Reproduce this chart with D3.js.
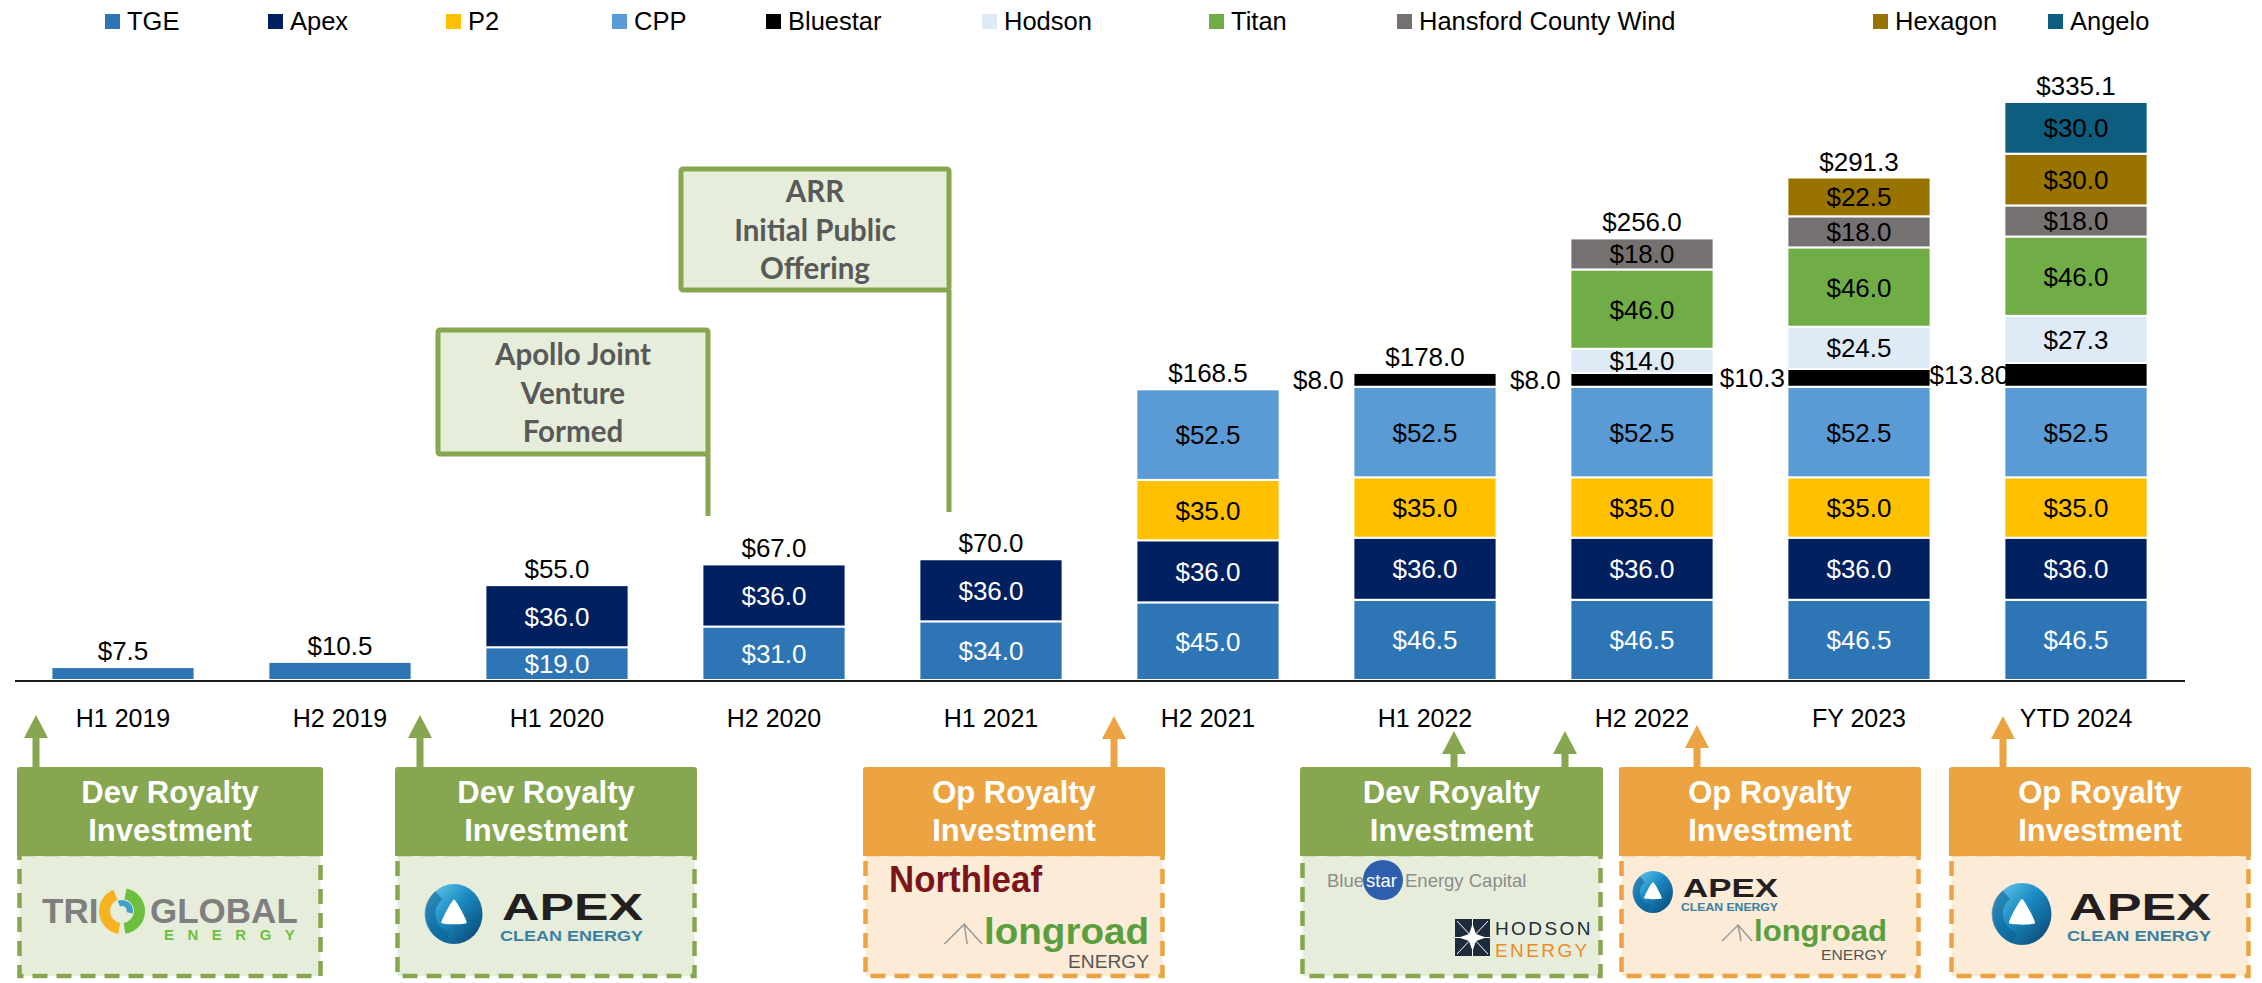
<!DOCTYPE html>
<html>
<head>
<meta charset="utf-8">
<script src="https://cdn.jsdelivr.net/npm/d3@7"></script>
<style>
  body { margin: 0; background: #fff; }
  svg { display: block; font-family: "Liberation Sans", Arial, sans-serif; }
</style>
</head>
<body>
<div id="chart"></div>
<script>
// Data
const periods = ["H1 2019", "H2 2019", "H1 2020", "H2 2020", "H1 2021", "H2 2021", "H1 2022", "H2 2022", "FY 2023", "YTD 2024"];
const seriesNames = ["TGE", "Apex", "P2", "CPP", "Bluestar", "Hodson", "Titan", "Hansford County Wind", "Hexagon", "Angelo"];
const tge      = [7.5, 10.5, 19, 31, 34, 45, 46.5, 46.5, 46.5, 46.5];
const apex     = [0, 0, 36, 36, 36, 36, 36, 36, 36, 36];
const p2       = [0, 0, 0, 0, 0, 35, 35, 35, 35, 35];
const cpp      = [0, 0, 0, 0, 0, 52.5, 52.5, 52.5, 52.5, 52.5];
const bluestar = [0, 0, 0, 0, 0, 0, 8, 8, 10.3, 13.8];
const hodson   = [0, 0, 0, 0, 0, 0, 0, 14, 24.5, 27.3];
const titan    = [0, 0, 0, 0, 0, 0, 0, 46, 46, 46];
const hansford = [0, 0, 0, 0, 0, 0, 0, 18, 18, 18];
const hexagon  = [0, 0, 0, 0, 0, 0, 0, 0, 22.5, 30];
const angelo   = [0, 0, 0, 0, 0, 0, 0, 0, 0, 30];
const bluestarLabels = ["", "", "", "", "", "", "$8.0", "$8.0", "$10.3", "$13.80"];

const seriesValues = [tge, apex, p2, cpp, bluestar, hodson, titan, hansford, hexagon, angelo];
const colors = ["#2e75b6", "#002060", "#ffc000", "#5b9bd5", "#000000", "#deebf7", "#70ad47", "#767171", "#997300", "#0d5e7e"];
const whiteText = ["TGE", "Apex"];

// legend layout (x of each swatch)
const legendX = [105, 268, 446, 612, 766, 982, 1209, 1397, 1873, 2048];

const width = 2262, height = 983;
const svg = d3.select("#chart").append("svg")
    .attr("width", width)
    .attr("height", height);

const defs = svg.append("defs");
const grad = defs.append("linearGradient").attr("id", "apexGrad")
    .attr("x1", 0).attr("y1", 0).attr("x2", 1).attr("y2", 1);
grad.append("stop").attr("offset", "0%").attr("stop-color", "#6fd0f0");
grad.append("stop").attr("offset", "45%").attr("stop-color", "#1b8cc4");
grad.append("stop").attr("offset", "100%").attr("stop-color", "#083f6b");

const rows = periods.map((p, i) => {
    const r = { period: p };
    seriesNames.forEach((s, j) => r[s] = seriesValues[j][i]);
    return r;
});

const x = d3.scaleBand()
    .domain(periods)
    .range([14.5, 2184.5])
    .paddingInner(0.34)
    .paddingOuter(0.17);

const y = d3.scaleLinear()
    .domain([0, 340])
    .range([680, 93.5]);

const color = d3.scaleOrdinal().domain(seriesNames).range(colors);

const layers = d3.stack().keys(seriesNames)(rows);

// Bars
const layerG = svg.append("g").selectAll("g")
    .data(layers)
    .enter().append("g")
    .attr("fill", d => color(d.key));

layerG.selectAll("rect")
    .data(d => d.filter(s => s[1] - s[0] > 0).map(s => ({ key: d.key, s })))
    .enter().append("rect")
    .attr("x", d => x(d.s.data.period))
    .attr("y", d => y(d.s[1]))
    .attr("width", x.bandwidth())
    .attr("height", d => y(d.s[0]) - y(d.s[1]))
    .attr("stroke", "#fff")
    .attr("stroke-width", 2);

// Segment labels
layerG.selectAll("text")
    .data(d => d.filter(s => s[1] - s[0] >= 12 && d.key !== "Bluestar").map(s => ({ key: d.key, s })))
    .enter().append("text")
    .attr("x", d => x(d.s.data.period) + x.bandwidth() / 2)
    .attr("y", d => (y(d.s[0]) + y(d.s[1])) / 2 + 9.5)
    .attr("text-anchor", "middle")
    .attr("font-size", 26)
    .attr("fill", d => whiteText.includes(d.key) ? "#fff" : "#000")
    .text(d => "$" + d3.format(".1f")(d.s[1] - d.s[0]));

// Bluestar labels sit to the left of the bar
const blueLayer = layers.find(l => l.key === "Bluestar");
svg.append("g").selectAll("text")
    .data(blueLayer.filter((s, i) => bluestarLabels[i] !== ""))
    .enter().append("text")
    .attr("x", d => x(d.data.period) - 35)
    .attr("y", d => (y(d[0]) + y(d[1])) / 2 + 9.5)
    .attr("text-anchor", "middle")
    .attr("font-size", 26)
    .text(d => bluestarLabels[periods.indexOf(d.data.period)]);

// Totals
svg.append("g").selectAll("text")
    .data(rows)
    .enter().append("text")
    .attr("x", d => x(d.period) + x.bandwidth() / 2)
    .attr("y", d => y(d3.sum(seriesNames, s => d[s])) - 7)
    .attr("text-anchor", "middle")
    .attr("font-size", 26)
    .text(d => d3.format("$.1f")(d3.sum(seriesNames, s => d[s])));

// X axis
const xAxis = svg.append("g")
    .attr("transform", "translate(0,680.5)")
    .call(d3.axisBottom(x).tickSize(0).tickSizeOuter(0).tickPadding(29));
xAxis.select(".domain").attr("stroke", "#1a1a1a").attr("stroke-width", 2);
xAxis.selectAll("text")
    .attr("font-size", 25)
    .attr("font-family", "Liberation Sans, Arial, sans-serif")
    .attr("fill", "#000");

// Legend
const legend = svg.append("g").selectAll("g")
    .data(seriesNames)
    .enter().append("g")
    .attr("transform", (d, i) => `translate(${legendX[i]},0)`);
legend.append("rect")
    .attr("y", 14).attr("width", 15).attr("height", 15)
    .attr("fill", d => color(d));
legend.append("text")
    .attr("x", 22).attr("y", 29.5)
    .attr("font-size", 25.5)
    .text(d => d);

// Callouts
const green = "#86a64f", greenLight = "#e6eedb";
const orange = "#eca442", orangeLight = "#fbebd7";

const callouts = [
    { x0: 438, x1: 708, y0: 330, y1: 454, lineTo: 516, lines: ["Apollo Joint", "Venture", "Formed"], base: 365 },
    { x0: 681, x1: 949, y0: 169, y1: 290, lineTo: 512, lines: ["ARR", "Initial Public", "Offering"], base: 202 }
];
const callG = svg.append("g").selectAll("g").data(callouts).enter().append("g");
callG.append("rect")
    .attr("x", d => d.x0).attr("y", d => d.y0)
    .attr("width", d => d.x1 - d.x0).attr("height", d => d.y1 - d.y0)
    .attr("rx", 2)
    .attr("fill", greenLight).attr("stroke", green).attr("stroke-width", 5);
callG.append("line")
    .attr("x1", d => d.x1).attr("x2", d => d.x1)
    .attr("y1", d => d.y1).attr("y2", d => d.lineTo)
    .attr("stroke", green).attr("stroke-width", 5);
callG.each(function(d) {
    d3.select(this).selectAll("text").data(d.lines).enter().append("text")
        .attr("x", (d.x0 + d.x1) / 2)
        .attr("y", (t, i) => d.base + i * 38.5)
        .attr("text-anchor", "middle")
        .attr("font-family", "Lato, 'Open Sans', sans-serif")
        .attr("font-weight", "bold")
        .attr("font-size", 29.5)
        .attr("fill", "#595959")
        .text(t => t);
});

// Investment boxes
const boxes = [
    { x0: 17, x1: 323, kind: "dev", arrows: [{ x: 36, tip: 715 }] },
    { x0: 395, x1: 697, kind: "dev", arrows: [{ x: 420, tip: 715 }] },
    { x0: 863, x1: 1165, kind: "op", arrows: [{ x: 1114, tip: 716 }] },
    { x0: 1300, x1: 1603, kind: "dev", arrows: [{ x: 1454, tip: 731 }, { x: 1565, tip: 731 }] },
    { x0: 1619, x1: 1921, kind: "op", arrows: [{ x: 1697, tip: 725 }] },
    { x0: 1949, x1: 2251, kind: "op", arrows: [{ x: 2003, tip: 716 }] }
];
const boxTop = 767, headBottom = 854, boxBottom = 976;

const boxG = svg.append("g").selectAll("g").data(boxes).enter().append("g");
boxG.each(function(b) {
    const g = d3.select(this);
    const c = b.kind === "dev" ? green : orange;
    const light = b.kind === "dev" ? greenLight : orangeLight;
    b.arrows.forEach(a => {
        g.append("path")
            .attr("d", `M${a.x},${a.tip} L${a.x + 12},${a.tip + 23} L${a.x + 3.5},${a.tip + 23} L${a.x + 3.5},${boxTop + 2} L${a.x - 3.5},${boxTop + 2} L${a.x - 3.5},${a.tip + 23} L${a.x - 12},${a.tip + 23} Z`)
            .attr("fill", c);
    });
    g.append("rect")
        .attr("x", b.x0 + 2.5).attr("y", headBottom)
        .attr("width", b.x1 - b.x0 - 5).attr("height", boxBottom - headBottom)
        .attr("fill", light).attr("stroke", c).attr("stroke-width", 4.5)
        .attr("stroke-dasharray", "15 9");
    g.append("path")
        .attr("d", `M${b.x0},${headBottom + 2} V${boxTop + 3} Q${b.x0},${boxTop} ${b.x0 + 3},${boxTop} H${b.x1 - 3} Q${b.x1},${boxTop} ${b.x1},${boxTop + 3} V${headBottom + 2} Z`)
        .attr("fill", c);
    const cx = (b.x0 + b.x1) / 2;
    const t = g.append("text").attr("x", cx).attr("y", 803)
        .attr("text-anchor", "middle").attr("font-weight", "bold").attr("font-size", 31)
        .attr("fill", "#fff");
    t.append("tspan").text(b.kind === "dev" ? "Dev Royalty" : "Op Royalty");
    t.append("tspan").attr("x", cx).attr("dy", 38).text("Investment");
});

// Logos
function fitText(g, txt, x, yb, len, size, fill, weight, anchor) {
    return g.append("text")
        .attr("x", x).attr("y", yb)
        .attr("font-size", size)
        .attr("font-weight", weight || "normal")
        .attr("fill", fill)
        .attr("text-anchor", anchor || "start")
        .attr("textLength", len)
        .attr("lengthAdjust", "spacingAndGlyphs")
        .text(txt);
}

function apexIcon(g, cx, cy, r) {
    g.append("ellipse").attr("cx", cx).attr("cy", cy).attr("rx", r * 0.95).attr("ry", r)
        .attr("fill", "url(#apexGrad)");
    g.append("path")
        .attr("d", d3.arc()({ innerRadius: r * 0.62, outerRadius: r * 0.98, startAngle: 3.4, endAngle: 5.6 }))
        .attr("transform", `translate(${cx},${cy})`)
        .attr("fill", "#0b5f92").attr("opacity", 0.55);
    const pts = [[0, -0.48], [0.42, 0.3], [-0.42, 0.3]].map(p => [cx + p[0] * r, cy + p[1] * r]);
    g.append("path")
        .attr("d", d3.line().curve(d3.curveCardinalClosed.tension(0.55))(pts))
        .attr("fill", "#fff");
}

function apexLogo(g, cx, cy, r, tx, tlen, tsize, tbase, sub) {
    apexIcon(g, cx, cy, r);
    fitText(g, "APEX", tx, tbase, tlen, tsize, "#231f20", "bold");
    fitText(g, "CLEAN ENERGY", tx - 2, sub.y, tlen + 2, sub.size, "#3a7fa4", "bold");
}

function longroadLogo(g, x0, yb, len, size, energyEnd, energyY, energyLen, energySize) {
    const h = size * 0.55;
    const rw = size * 1.1;
    g.append("path")
        .attr("d", `M${x0 - rw},${yb} L${x0 - rw / 2},${yb - h} L${x0 - 2},${yb} M${x0 - rw / 2},${yb - h} L${x0 - rw / 2 + 3},${yb}`)
        .attr("fill", "none").attr("stroke", "#9a9a9a").attr("stroke-width", 1.5);
    fitText(g, "longroad", x0, yb, len, size, "#5b9e3e", "bold");
    fitText(g, "ENERGY", energyEnd, energyY, energyLen, energySize, "#555", "normal", "end");
}

const logoG = svg.append("g");

// Tri Global Energy
const swirl = logoG.append("g").attr("transform", "translate(122,911)");
swirl.append("path").attr("d", d3.arc()({ innerRadius: 12, outerRadius: 23, startAngle: 3.3, endAngle: 5.9 })).attr("fill", "#f5b323");
swirl.append("path").attr("d", d3.arc()({ innerRadius: 12, outerRadius: 23, startAngle: 0.2, endAngle: 3.0 })).attr("fill", "#6cbf3f");
swirl.append("path").attr("d", d3.arc()({ innerRadius: 5, outerRadius: 11, startAngle: -0.4, endAngle: 1.8 })).attr("fill", "#3fa0c8");
const tri = logoG.append("text").attr("font-weight", "bold").attr("font-size", 35);
tri.append("tspan").attr("x", 42).attr("y", 923).attr("fill", "#7f7f7f").text("TRI");
tri.append("tspan").attr("x", 150).attr("y", 923).attr("fill", "#7f7f7f").text("GLOBAL");
tri.append("tspan").attr("x", 164).attr("y", 940).attr("fill", "#6cbf3f")
    .attr("font-size", 15).attr("letter-spacing", 13.5).text("ENERGY");

// Apex
apexLogo(logoG, 454, 914, 30, 502, 141, 37, 920, { y: 941, size: 14 });

// Northleaf + longroad
fitText(logoG, "Northleaf", 889, 892, 153, 36, "#7b1519", "bold");
longroadLogo(logoG, 984, 944, 165, 36, 1149, 968, 81, 18);

// Bluestar + Hodson
logoG.append("circle").attr("cx", 1383).attr("cy", 880).attr("r", 20).attr("fill", "#2d5fae");
const blue = logoG.append("text").attr("y", 887).attr("font-size", 18.5);
blue.append("tspan").attr("x", 1327).attr("fill", "#8c8c8c").text("Blue");
blue.append("tspan").attr("x", 1366).attr("fill", "#fff").text("star");
blue.append("tspan").attr("x", 1405).attr("fill", "#8c8c8c").text("Energy Capital");

logoG.append("rect").attr("x", 1455).attr("y", 919).attr("width", 35).attr("height", 37).attr("fill", "#1d2b3c");
logoG.append("path")
    .attr("d", "M1457,921 L1488,954 M1488,921 L1457,954 M1472.5,919 L1472.5,956 M1455,937.5 L1490,937.5")
    .attr("stroke", "#fff").attr("stroke-width", 1);
logoG.append("path")
    .attr("d", "M1472.5,924 L1476,934 L1486,937.5 L1476,941 L1472.5,951 L1469,941 L1459,937.5 L1469,934 Z")
    .attr("fill", "#fff");
logoG.append("text").attr("x", 1495).attr("y", 935).attr("font-size", 19)
    .attr("letter-spacing", 2.4).attr("fill", "#1d2b3c").text("HODSON");
logoG.append("text").attr("x", 1495).attr("y", 957).attr("font-size", 19)
    .attr("letter-spacing", 2.4).attr("fill", "#f08a24").text("ENERGY");

// Apex + longroad
apexLogo(logoG, 1653, 892, 21, 1683, 95, 26, 897, { y: 911, size: 11 });
longroadLogo(logoG, 1754, 941, 133, 29, 1887, 960, 66, 15);

// Apex (large)
apexLogo(logoG, 2022, 914, 31, 2069, 142, 37, 920, { y: 941, size: 14 });
</script>
</body>
</html>
